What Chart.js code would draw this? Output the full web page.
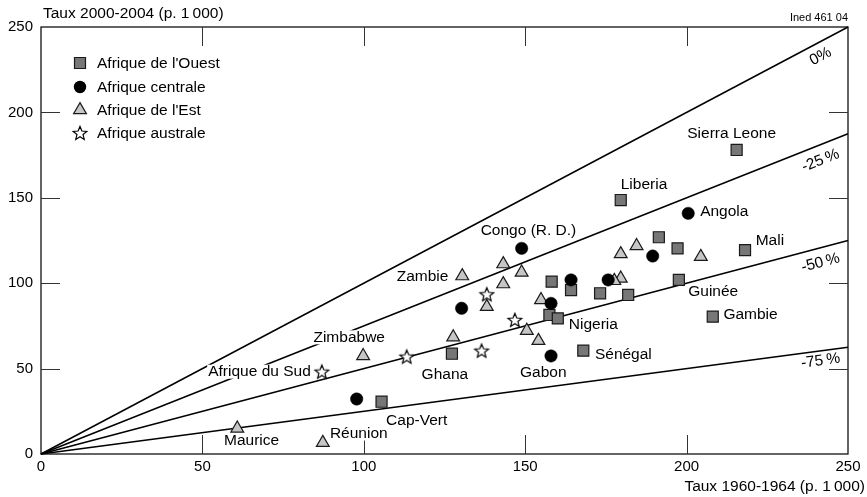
<!DOCTYPE html>
<html><head><meta charset="utf-8">
<script src="https://cdn.jsdelivr.net/npm/chart.js@4.4.0/dist/chart.umd.min.js"></script>
<style>html,body{margin:0;padding:0;background:#fff}#wrap{width:867px;height:497px;position:relative}</style>
</head><body><div id="wrap"><canvas id="c" width="867" height="497"></canvas></div>
<script>
// ---------- DATA ----------
const regionNames = ["Afrique de l'Ouest", "Afrique centrale", "Afrique de l'Est", "Afrique australe"];

const ouestX = [215.5, 179.6, 191.4, 197.2, 218.1, 158.2, 164.2, 173.2, 181.9, 197.6, 157.5, 160.1, 208.1, 168.0, 127.3, 105.5];
const ouestY = [178.0, 148.7, 126.9, 120.4, 119.4, 100.9, 96.0, 94.1, 93.1, 101.9, 81.4, 79.4, 80.4, 60.5, 58.7, 30.6];

const centraleX = [200.5, 148.9, 164.2, 175.7, 189.5, 130.3, 158.0, 158.0, 97.8];
const centraleY = [140.9, 120.4, 101.9, 101.9, 115.9, 85.3, 88.2, 57.4, 32.2];

const estX = [130.5, 143.2, 148.9, 143.2, 138.1, 154.9, 150.5, 154.1, 127.7, 179.6, 184.5, 204.4, 179.6, 177.6, 99.8, 60.8, 87.3];
const estY = [104.2, 111.2, 106.3, 99.5, 86.2, 90.2, 72.2, 66.3, 68.4, 117.1, 121.8, 115.5, 102.8, 101.4, 57.4, 15.0, 6.6];

const australeX = [87.0, 113.3, 138.1, 146.8, 136.5];
const australeY = [48.2, 57.0, 93.5, 78.5, 60.5];

// reference lines: ratio of 2000-2004 rate to 1960-1964 rate
const refRatios = [1, 0.75, 0.5, 0.25];
const refLabels = ["0%", "-25\u2009%", "-50\u2009%", "-75\u2009%"];

// country labels (left / middle anchor, in data units)
const countryNames = ["Sierra Leone", "Liberia", "Angola", "Mali", "Guinée", "Gambie", "Nigeria", "Sénégal",
  "Congo (R. D.)", "Zambie", "Zimbabwe", "Afrique du Sud", "Ghana", "Gabon", "Cap-Vert", "Réunion", "Maurice"];
const countryLabelX = [200.2, 179.6, 204.2, 221.4, 200.5, 211.4, 163.5, 171.6, 136.2, 110.2, 84.4, 51.8, 117.9, 148.4, 106.9, 89.5, 56.7];
const countryLabelY = [187.8, 157.9, 142.0, 124.9, 95.0, 81.4, 75.5, 58.0, 130.5, 103.8, 68.3, 48.2, 46.2, 47.4, 19.5, 12.0, 7.8];

const xTitle = "Taux 1960-1964 (p.\u00a01\u2009000)";
const yTitle = "Taux 2000-2004 (p.\u00a01\u2009000)";
const sourceNote = "Ined 461 04";

// ---------- STYLE ----------
const FONT = '"Liberation Sans", Arial, Helvetica, sans-serif';
const SQ_FILL = '#777777', TRI_FILL = '#c6c6c6', EDGE = '#1a1a1a';

function starPath(g, cx, cy, r, ri) {
  g.beginPath();
  for (let i = 0; i < 10; i++) {
    const a = -Math.PI / 2 + i * Math.PI / 5;
    const rr = i % 2 === 0 ? r : ri;
    g.lineTo(cx + rr * Math.cos(a), cy + rr * Math.sin(a));
  }
  g.closePath();
}
function makeStar() {
  const s = 18;
  const c = document.createElement('canvas'); c.width = s; c.height = s;
  const g = c.getContext('2d');
  starPath(g, s / 2, s / 2 + 0.6, 7.2, 3.2);
  g.fillStyle = '#fff'; g.fill();
  g.lineWidth = 1.2; g.strokeStyle = '#000'; g.lineJoin = 'miter'; g.stroke();
  return c;
}
const starImg = makeStar();

const toPts = (xs, ys) => xs.map((x, i) => ({ x, y: ys[i] }));

const datasets = [
  { label: regionNames[0], data: toPts(ouestX, ouestY), pointStyle: 'rect', pointRadius: 7.8,
    backgroundColor: SQ_FILL, borderColor: EDGE, pointBorderWidth: 1.2, order: 4 },
  { label: regionNames[1], data: toPts(centraleX, centraleY), pointStyle: 'circle', pointRadius: 6.2,
    backgroundColor: '#000', borderColor: '#000', pointBorderWidth: 0.5, order: 2 },
  { label: regionNames[2], data: toPts(estX, estY), pointStyle: 'triangle', pointRadius: 7.4,
    backgroundColor: TRI_FILL, borderColor: EDGE, pointBorderWidth: 1.2, order: 3 },
  { label: regionNames[3], data: toPts(australeX, australeY), pointStyle: starImg, pointRadius: 7,
    backgroundColor: '#fff', borderColor: '#000', order: 1 },
];
const LAST_LINE_INDEX = datasets.length; // first reference line is drawn last among lines
refRatios.forEach((k, i) => {
  datasets.push({ type: 'line', label: refLabels[i], data: [{ x: 0, y: 0 }, { x: 250, y: 250 * k }],
    borderColor: '#000', borderWidth: 1.5, pointRadius: 0, fill: false, order: 20 + i, clip: false });
});

function drawLegendMarker(ctx, kind, x, y) {
  ctx.save();
  ctx.lineWidth = 1.2; ctx.strokeStyle = EDGE;
  if (kind === 0) {
    const h = 5.5; ctx.fillStyle = SQ_FILL;
    ctx.beginPath(); ctx.rect(x - h, y - h, 2 * h, 2 * h); ctx.fill(); ctx.stroke();
  } else if (kind === 1) {
    ctx.fillStyle = '#000'; ctx.beginPath(); ctx.arc(x, y, 6.2, 0, Math.PI * 2); ctx.fill();
  } else if (kind === 2) {
    const r = 7.4; ctx.fillStyle = TRI_FILL; ctx.beginPath();
    ctx.moveTo(x, y - r); ctx.lineTo(x + 0.866 * r, y + 0.5 * r); ctx.lineTo(x - 0.866 * r, y + 0.5 * r);
    ctx.closePath(); ctx.fill(); ctx.stroke();
  } else {
    ctx.drawImage(starImg, x - starImg.width / 2, y - starImg.height / 2);
  }
  ctx.restore();
}

const overlay = {
  id: 'overlay',
  beforeDatasetsDraw(chart) {
    const { ctx, chartArea: a, scales: { x, y } } = chart;
    ctx.save();
    // frame
    ctx.strokeStyle = '#111'; ctx.lineWidth = 1.3;
    ctx.strokeRect(a.left, a.top, a.right - a.left, a.bottom - a.top);
    // inward ticks on four sides
    ctx.strokeStyle = '#333'; ctx.lineWidth = 1;
    const L = 19;
    for (let v = 50; v < 250; v += 50) {
      const px = Math.round(x.getPixelForValue(v)) + 0.5;
      ctx.beginPath(); ctx.moveTo(px, a.bottom); ctx.lineTo(px, a.bottom - L); ctx.stroke();
      ctx.beginPath(); ctx.moveTo(px, a.top); ctx.lineTo(px, a.top + L); ctx.stroke();
      const py = Math.round(y.getPixelForValue(v)) + 0.5;
      ctx.beginPath(); ctx.moveTo(a.left, py); ctx.lineTo(a.left + L, py); ctx.stroke();
      ctx.beginPath(); ctx.moveTo(a.right, py); ctx.lineTo(a.right - L, py); ctx.stroke();
    }
    ctx.restore();
  },
  afterDatasetDraw(chart, args) {
    if (args.index !== LAST_LINE_INDEX) return;
    const { ctx, scales: { x, y } } = chart;
    ctx.save();
    ctx.font = '15.5px ' + FONT; ctx.textBaseline = 'middle'; ctx.textAlign = 'left';
    countryNames.forEach((t, i) => {
      const px = x.getPixelForValue(countryLabelX[i]);
      const py = y.getPixelForValue(countryLabelY[i]);
      const w = ctx.measureText(t).width;
      ctx.fillStyle = '#fff'; ctx.fillRect(px - 1, py - 7, w + 2, 14);
      ctx.fillStyle = '#000'; ctx.fillText(t, px, py);
    });
    ctx.restore();
  },
  afterDraw(chart) {
    const { ctx, chartArea: a, scales: { x, y } } = chart;
    ctx.save();
    ctx.fillStyle = '#000';
    // axis titles
    ctx.font = '15.5px ' + FONT; ctx.textBaseline = 'middle';
    ctx.textAlign = 'left'; ctx.fillText(yTitle, a.left + 2, 14);
    ctx.textAlign = 'right'; ctx.fillText(xTitle, 865, 487);
    ctx.font = '11px ' + FONT; ctx.fillText(sourceNote, a.right, 18);
    // percentage labels along reference lines
    const xAt = 241.5, drop = [15, 16, 15, 10];
    ctx.font = '15.5px ' + FONT; ctx.textAlign = 'center';
    refRatios.forEach((k, i) => {
      const p0x = x.getPixelForValue(0), p0y = y.getPixelForValue(0);
      const p1x = x.getPixelForValue(250), p1y = y.getPixelForValue(250 * k);
      const ang = Math.atan2(p1y - p0y, p1x - p0x);
      const cx = x.getPixelForValue(xAt), cy = y.getPixelForValue(xAt * k) + drop[i];
      ctx.save(); ctx.translate(cx, cy); ctx.rotate(ang);
      ctx.fillText(refLabels[i], 0, 0); ctx.restore();
    });
    // legend
    ctx.font = '15.5px ' + FONT; ctx.textAlign = 'left';
    const rows = [63, 87, 110, 133];
    regionNames.forEach((n, i) => {
      drawLegendMarker(ctx, i, 80, rows[i]);
      ctx.fillStyle = '#000'; ctx.fillText(n, 97, rows[i] + 0.5);
    });
    ctx.restore();
  }
};

const tickFont = { family: FONT, size: 15 };
new Chart(document.getElementById('c'), {
  type: 'scatter',
  data: { datasets },
  options: {
    responsive: false, animation: false, events: [],
    layout: { padding: { top: 27, right: 19, left: 0, bottom: 0 } },
    plugins: { legend: { display: false }, tooltip: { enabled: false } },
    scales: {
      x: { type: 'linear', min: 0, max: 250,
        ticks: { stepSize: 50, font: tickFont, color: '#000', padding: 4, maxRotation: 0 },
        grid: { display: false, drawTicks: false }, border: { display: false },
        afterFit(s) { s.height = 43; } },
      y: { type: 'linear', min: 0, max: 250,
        ticks: { stepSize: 50, font: tickFont, color: '#000', padding: 8 },
        grid: { display: false, drawTicks: false }, border: { display: false },
        afterFit(s) { s.width = 41; } }
    }
  },
  plugins: [overlay]
});
</script>
</body></html>
